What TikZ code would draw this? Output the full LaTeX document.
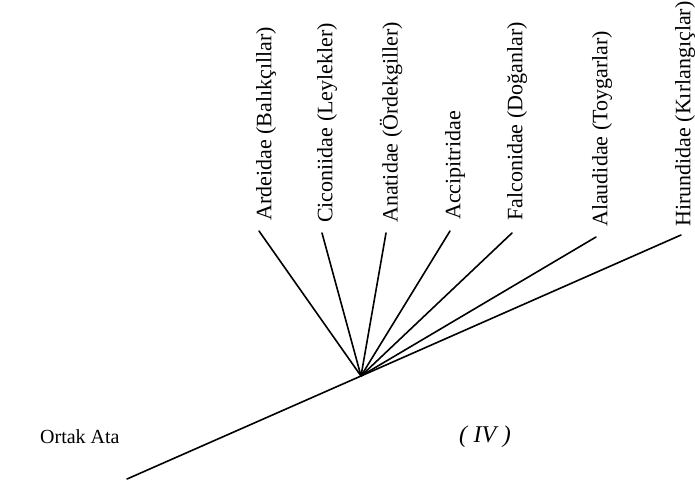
\documentclass[tikz,border=0pt]{standalone}
\usepackage{fontspec}
\setmainfont{Liberation Serif}
\usetikzlibrary{calc}
\begin{document}
\begin{tikzpicture}[x=1pt,y=-1pt,
  branch/.style={line width=1.6pt, line cap=round},
  taxon/.style={rotate=90, anchor=west, inner sep=0pt,
    font=\fontsize{22}{22}\selectfont},
  rootlabel/.style={anchor=west, inner sep=0pt,
    font=\fontsize{20}{20}\selectfont},
  roman/.style={inner sep=0pt, font=\fontsize{24}{24}\selectfont\itshape}]
  \useasboundingbox (0,0) rectangle (695,484);

  % root and branching point
  \coordinate (root) at (127,479);
  \coordinate (fork) at (361,376);

  % branch tips
  \coordinate (tA) at (259,231);
  \coordinate (tB) at (322,233);
  \coordinate (tC) at (386,233);
  \coordinate (tD) at (450,231);
  \coordinate (tE) at (512,233);
  \coordinate (tF) at (596,237);
  \coordinate (tG) at (681,235);

  % taxon labels, set vertically above each tip
  \node[taxon] (lA) at ($(tA)+(7,-10)$) {Ardeidae (Balıkçıllar)};
  \node[taxon] (lB) at ($(tB)+(5,-10)$) {Ciconiidae (Leylekler)};
  \node[taxon] (lC) at ($(tC)+(5,-10)$) {Anatidae (Ördekgiller)};
  \node[taxon] (lD) at ($(tD)+(5,-11)$) {Accipitridae};
  \node[taxon] (lE) at ($(tE)+(5,-12)$) {Falconidae (Doğanlar)};
  \node[taxon] (lF) at ($(tF)+(6,-10)$) {Alaudidae (Toygarlar)};
  \node[taxon] (lG) at ($(tG)+(4,-8)$) {Hirundidae (Kırlangıçlar)};

  \node[rootlabel] (anc) at (40,437) {Ortak Ata};
  \node[roman] (num) at (485,437) {(\;IV\;)};

  % tree
  \draw[branch] (root) -- (fork);
  \foreach \t in {tA,tB,tC,tD,tE,tF,tG}
    \draw[branch] (fork) -- (\t);
\end{tikzpicture}
\end{document}
